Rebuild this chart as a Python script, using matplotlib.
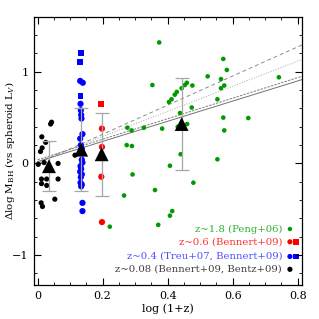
import numpy as np
import matplotlib
matplotlib.use("Agg")
import matplotlib.pyplot as plt
from matplotlib.ticker import MultipleLocator

plt.rcParams['font.family'] = ['DejaVu Serif']
plt.rcParams['mathtext.fontset'] = 'dejavuserif'

# z~0.08 (Bennert+09, Bentz+09)
black_x = [0.040, 0.043, 0.013, 0.025, 0.014, 0.009, 0.115, 0.020, 0.002, 0.063,
           0.012, 0.028, 0.063, 0.012, 0.028, 0.011, 0.015, 0.053]
black_y = [0.43, 0.45, 0.29, 0.23, 0.17, 0.13, 0.09, 0.01, -0.01, 0.00,
           -0.17, -0.17, -0.17, -0.22, -0.24, -0.43, -0.47, -0.39]

# z~0.4 (Treu+07, Bennert+09)
blue_sq_x = [0.133, 0.131, 0.132]
blue_sq_y = [1.20, 1.11, 0.735]
blue_x = [0.131, 0.139, 0.132, 0.133, 0.134, 0.135, 0.138, 0.131, 0.133, 0.136,
          0.136, 0.138, 0.132, 0.134, 0.131, 0.136, 0.133, 0.132, 0.136, 0.134,
          0.138, 0.138]
blue_y = [0.90, 0.88, 0.65, 0.58, 0.53, 0.49, 0.32, 0.27, 0.20, 0.16,
          0.04, 0.01, -0.03, -0.06, -0.09, -0.12, -0.15, -0.21, -0.23, -0.25,
          -0.43, -0.52]

# z~0.6 (Bennert+09)
red_sq_x = [0.195]
red_sq_y = [0.645]
red_x = [0.198, 0.198, 0.196, 0.198]
red_y = [0.38, 0.18, -0.145, -0.64]

# z~1.8 (Peng+06)
green_x = [0.374, 0.571, 0.582, 0.523, 0.742, 0.564, 0.459, 0.353, 0.453, 0.476,
           0.574, 0.443, 0.564, 0.428, 0.422, 0.412, 0.553, 0.404, 0.474, 0.438,
           0.571, 0.648, 0.460, 0.431, 0.276, 0.327, 0.383, 0.289, 0.574, 0.274,
           0.290, 0.440, 0.553, 0.407, 0.292, 0.479, 0.361, 0.266, 0.414, 0.407,
           0.371, 0.222]
green_y = [1.32, 1.14, 1.02, 0.95, 0.94, 0.92, 0.88, 0.855, 0.855, 0.85,
           0.85, 0.82, 0.82, 0.78, 0.75, 0.70, 0.70, 0.67, 0.61, 0.55,
           0.50, 0.495, 0.43, 0.40, 0.39, 0.39, 0.38, 0.36, 0.36, 0.20,
           0.19, 0.10, 0.045, -0.025, -0.12, -0.21, -0.29, -0.35, -0.52, -0.57,
           -0.67, -0.69]

# binned means with scatter
mean_x = [0.035, 0.134, 0.197, 0.443]
mean_y = [-0.03, 0.15, 0.10, 0.43]
mean_err = [0.27, 0.45, 0.45, 0.50]

# evolution fits: slope, intercept, style
fit_slope = [1.59, 1.37, 1.12, 1.10]
fit_icpt = [0.00, 0.02, 0.04, 0.02]
fit_style = [(0, (4, 3)), ':', (0, (2.5, 1.2)), '-']
fit_color = ['0.55', '0.65', '0.5', '0.45']

fig = plt.figure(figsize=(3.19, 3.19), dpi=100)
ax = fig.add_axes([0.1066, 0.1066, 0.84, 0.84])

xx = np.array([0.0, 0.82])
for m, b, ls, c in zip(fit_slope, fit_icpt, fit_style, fit_color):
    ax.plot(xx, m * xx + b, linestyle=ls, color=c, linewidth=0.7, zorder=1)

ax.scatter(green_x, green_y, s=11, color='#009a00', edgecolors='none', zorder=3)
ax.scatter(black_x, black_y, s=14, color='black', edgecolors='none', zorder=3)
ax.scatter(blue_x, blue_y, s=20, color='#0000ff', edgecolors='none', zorder=3)
ax.scatter(blue_sq_x, blue_sq_y, s=18, marker='s', color='#0000ff',
           edgecolors='none', zorder=3)
ax.scatter(red_x, red_y, s=20, color='#ff0000', edgecolors='none', zorder=3)
ax.scatter(red_sq_x, red_sq_y, s=18, marker='s', color='#ff0000',
           edgecolors='none', zorder=3)

ax.errorbar(mean_x, mean_y, yerr=mean_err, fmt='none', ecolor='0.65',
            elinewidth=0.9, capsize=5, capthick=0.9, zorder=4)
ax.scatter(mean_x, mean_y, s=100, marker='^', color='black',
           edgecolors='none', zorder=5)

# legend as coloured text
leg_labels = ['z~1.8 (Peng+06)', 'z~0.6 (Bennert+09)',
              'z~0.4 (Treu+07, Bennert+09)', 'z~0.08 (Bennert+09, Bentz+09)']
leg_colors = ['#30b030', '#ff3030', '#5050ff', '#404040']
leg_mark = ['#009a00', '#ff0000', '#0000ff', 'black']
leg_y = [-0.715, -0.855, -1.015, -1.155]
leg_sq = [False, True, True, False]
for lab, tc, mc, y, sq in zip(leg_labels, leg_colors, leg_mark, leg_y, leg_sq):
    ax.text(0.752, y, lab, color=tc, fontsize=7.3, ha='right', va='center')
    ax.scatter([0.776], [y], s=14 if mc != '#009a00' else 10, color=mc,
               edgecolors='none')
    if sq:
        ax.scatter([0.794], [y], s=16, marker='s', color=mc, edgecolors='none')

ax.set_xlim(-0.011, 0.813)
ax.set_ylim(-1.326, 1.597)
ax.xaxis.set_major_locator(MultipleLocator(0.2))
ax.xaxis.set_minor_locator(MultipleLocator(0.05))
ax.yaxis.set_major_locator(MultipleLocator(1))
ax.yaxis.set_minor_locator(MultipleLocator(0.2))
ax.set_xticks([0, 0.2, 0.4, 0.6, 0.8])
ax.set_xticklabels(['0', '0.2', '0.4', '0.6', '0.8'])
ax.set_yticks([-1, 0, 1])
ax.set_yticklabels(['\u22121', '0', '1'])
ax.tick_params(which='both', direction='in', top=True, right=True,
               labelsize=8)
ax.tick_params(which='major', length=5, width=0.8, pad=4)
ax.tick_params(which='minor', length=2.5, width=0.6)
for sp in ax.spines.values():
    sp.set_linewidth(0.9)

ax.set_xlabel('log (1+z)', fontsize=8, labelpad=2)
ax.set_ylabel(r'$\Delta$log M$_{\rm BH}$ (vs spheroid L$_V$)', fontsize=7.5)
ax.yaxis.set_label_coords(-0.065, 0.5)

fig.savefig('out.png', dpi=100)
